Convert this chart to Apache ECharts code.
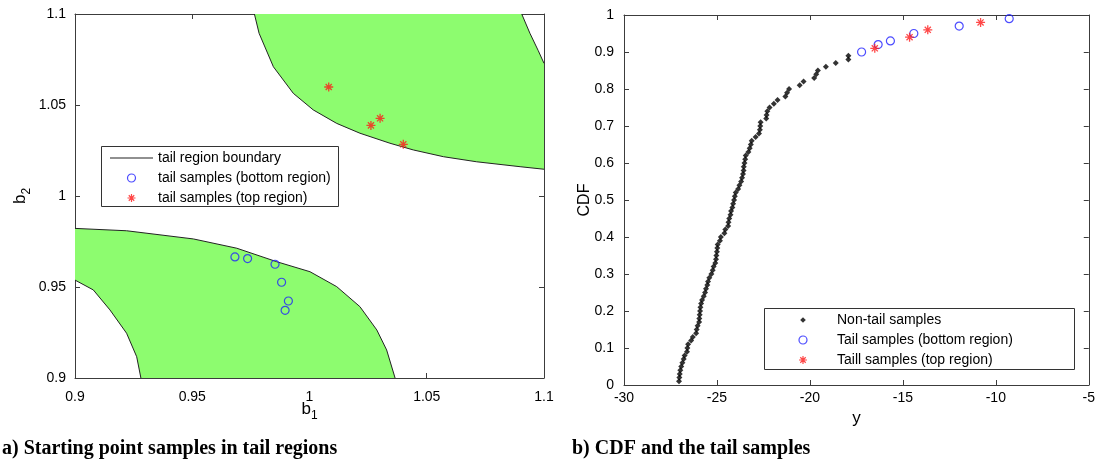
<!DOCTYPE html>
<html lang="en">
<head>
<meta charset="utf-8">
<title>Starting point samples in tail regions / CDF and the tail samples</title>
<script src="https://cdn.jsdelivr.net/npm/echarts@6/dist/echarts.min.js"></script>
<style>
    html, body { margin: 0; padding: 0; background: #fff; }
    #main { width: 1098px; height: 460px; }
</style>
</head>
<body>
<div id="main"></div>
<script type="text/javascript">
    // ---- a) tail region boundaries as [b1, b2] ----
    var topLowerEdge = [[0.9765, 1.1], [0.9785, 1.0894], [0.9846, 1.0710], [0.9931, 1.0564], [1.0016, 1.0473],
        [1.0116, 1.0399], [1.0215, 1.0345], [1.0343, 1.0290], [1.0443, 1.0253], [1.0571, 1.0216],
        [1.0713, 1.0188], [1.0898, 1.0161], [1.1, 1.0147]];
    var topUpperEdge = [[1.0905, 1.1], [1.0940, 1.0894], [1.0975, 1.0800], [1.1, 1.0729]];
    var bottomUpperEdge = [[0.9, 0.9822], [0.9220, 0.9809], [0.9505, 0.9764], [0.9690, 0.9713], [0.9860, 0.9639],
        [1.0002, 0.9584], [1.0116, 0.9502], [1.0215, 0.9392], [1.0287, 0.9264], [1.0329, 0.9154], [1.0365, 0.9]];
    var bottomLowerEdge = [[0.9, 0.9538], [0.9078, 0.9484], [0.9149, 0.9374], [0.9220, 0.9246], [0.9263, 0.9117], [0.9281, 0.9]];

    // starting point samples
    var startBottom = [[0.9682, 0.9665], [0.9736, 0.9656], [0.9853, 0.9625], [0.9881, 0.9526], [0.9910, 0.9423], [0.9896, 0.9372]];
    var startTop = [[1.0082, 1.0599], [1.0262, 1.0388], [1.0301, 1.0427], [1.0400, 1.0284]];

    // ---- b) empirical CDF ----
    var nonTailX = [-27.04, -27.02, -27.00, -26.97, -26.92, -26.86, -26.79, -26.74, -26.61, -26.59,
        -26.55, -26.39, -26.30, -26.12, -26.09, -26.04, -25.96, -25.95, -25.93, -25.91,
        -25.89, -25.85, -25.80, -25.71, -25.64, -25.59, -25.52, -25.48, -25.41, -25.30,
        -25.23, -25.18, -25.09, -25.05, -25.03, -25.00, -24.98, -24.96, -24.84, -24.79,
        -24.60, -24.55, -24.40, -24.38, -24.34, -24.27, -24.24, -24.17, -24.13, -24.08,
        -24.04, -23.99, -23.86, -23.79, -23.70, -23.65, -23.60, -23.57, -23.56, -23.52,
        -23.48, -23.45, -23.31, -23.24, -23.18, -23.13, -22.92, -22.74, -22.69, -22.67,
        -22.65, -22.35, -22.33, -22.29, -22.17, -21.94, -21.74, -21.32, -21.23, -21.12,
        -20.55, -20.34, -19.77, -19.66, -19.57, -19.14, -18.61, -17.93, -17.93];
    var nonTailCdf = [0.01, 0.02, 0.03, 0.04, 0.05, 0.06, 0.07, 0.08, 0.09, 0.10,
        0.11, 0.12, 0.13, 0.14, 0.15, 0.16, 0.17, 0.18, 0.19, 0.20,
        0.21, 0.22, 0.23, 0.24, 0.25, 0.26, 0.27, 0.28, 0.29, 0.30,
        0.31, 0.32, 0.33, 0.34, 0.35, 0.36, 0.37, 0.38, 0.39, 0.40,
        0.41, 0.42, 0.43, 0.44, 0.45, 0.46, 0.47, 0.48, 0.49, 0.50,
        0.51, 0.52, 0.53, 0.54, 0.55, 0.56, 0.57, 0.58, 0.59, 0.60,
        0.61, 0.62, 0.63, 0.64, 0.65, 0.66, 0.67, 0.68, 0.69, 0.70,
        0.71, 0.72, 0.73, 0.74, 0.75, 0.76, 0.77, 0.78, 0.79, 0.80,
        0.81, 0.82, 0.83, 0.84, 0.85, 0.86, 0.87, 0.88, 0.89];
    var tailBottomX = [-17.22, -16.33, -15.67, -14.41, -11.97, -9.28];
    var tailBottomCdf = [0.90, 0.92, 0.93, 0.95, 0.97, 0.99];
    var tailTopX = [-16.51, -14.64, -13.66, -10.82];
    var tailTopCdf = [0.91, 0.94, 0.96, 0.98];

    var FONT = '"Liberation Sans", Arial, sans-serif';
    var CAPTION_FONT = 'bold 20px "Liberation Serif", "Times New Roman", serif';
    var GREEN = '#8dfc6f';
    var BLUE = '#1f1fff';
    var RED = '#ff1a1a';
    var STAR = 'path://M5,0L5,10M0,5L10,5M1.6,1.6L8.4,8.4M8.4,1.6L1.6,8.4';
    // legend icons padded with bare moveTo points so they keep their size in the legend box
    var LINE_ICON = 'path://M0,0M43,8M0,3.5L43,3.5L43,4.6L0,4.6Z';
    var DOT_ICON = 'path://M0,0M58,8M29,1.2L31.8,4L29,6.8L26.2,4Z';

    function zip(xs, ys) {
        return xs.map(function (x, i) { return [x, ys[i]]; });
    }

    // closed outlines of the two green regions
    var regions = [
        topLowerEdge.concat(topUpperEdge.slice().reverse()),
        bottomUpperEdge.concat(bottomLowerEdge.slice().reverse())
    ];

    function axis(extra) {
        var base = {
            type: 'value',
            axisLine: { show: true, onZero: false, lineStyle: { color: '#3c3c3c', width: 1 } },
            axisTick: { show: true, inside: true, length: 5, lineStyle: { color: '#3c3c3c' } },
            splitLine: { show: false },
            axisLabel: { color: '#000', fontSize: 14, fontFamily: FONT }
        };
        return Object.assign(base, extra);
    }
    function mirror(extra) {
        var a = axis(extra);
        a.axisLabel = { show: false };
        return a;
    }

    function boundary(points) {
        return {
            name: 'tail region boundary',
            type: 'line',
            xAxisIndex: 0, yAxisIndex: 0,
            data: points,
            symbol: 'none',
            lineStyle: { color: '#222', width: 1 },
            itemStyle: { color: '#222' },
            silent: true,
            z: 3
        };
    }

    var chart = echarts.init(document.getElementById('main'), null, { renderer: 'canvas' });

    var option = {
        backgroundColor: '#fff',
        animation: false,
        textStyle: { fontFamily: FONT },
        grid: [
            { left: 75, top: 14, width: 469, height: 364 },
            { left: 624, top: 15, width: 468, height: 370 }
        ],
        xAxis: [
            axis({ gridIndex: 0, position: 'bottom', min: 0.9, max: 1.1, interval: 0.05,
                axisLabel: { color: '#000', fontSize: 14, fontFamily: FONT, margin: 12 },
                name: '{a|b}{s|1}', nameLocation: 'middle', nameGap: 18, nameMoveOverlap: false,
                nameTextStyle: { rich: {
                    a: { fontSize: 17, color: '#000', fontFamily: FONT },
                    s: { fontSize: 12, color: '#000', fontFamily: FONT, padding: [14, 0, 0, 0] }
                } } }),
            mirror({ gridIndex: 0, position: 'top', min: 0.9, max: 1.1, interval: 0.05 }),
            axis({ gridIndex: 1, position: 'bottom', min: -30, max: -5, interval: 5,
                axisLabel: { color: '#000', fontSize: 14, fontFamily: FONT, margin: 6 },
                name: 'y', nameLocation: 'middle', nameGap: 24,
                nameTextStyle: { fontSize: 17, color: '#000', fontFamily: FONT } }),
            mirror({ gridIndex: 1, position: 'top', min: -30, max: -5, interval: 5 })
        ],
        yAxis: [
            axis({ gridIndex: 0, position: 'left', min: 0.9, max: 1.1, interval: 0.05,
                axisLabel: { color: '#000', fontSize: 14, fontFamily: FONT, margin: 9 },
                name: '{a|b}{s|2}', nameLocation: 'middle', nameGap: 42, nameRotate: 90,
                nameTextStyle: { rich: {
                    a: { fontSize: 17, color: '#000', fontFamily: FONT },
                    s: { fontSize: 12, color: '#000', fontFamily: FONT, padding: [14, 0, 0, 0] }
                } } }),
            mirror({ gridIndex: 0, position: 'right', min: 0.9, max: 1.1, interval: 0.05 }),
            axis({ gridIndex: 1, position: 'left', min: 0, max: 1, interval: 0.1,
                axisLabel: { color: '#000', fontSize: 14, fontFamily: FONT, margin: 10 },
                name: 'CDF', nameLocation: 'middle', nameGap: 31, nameRotate: 90, nameMoveOverlap: false,
                nameTextStyle: { fontSize: 16, color: '#000', fontFamily: FONT } }),
            mirror({ gridIndex: 1, position: 'right', min: 0, max: 1, interval: 0.1 })
        ],
        legend: [
            {
                left: 110, top: 151, orient: 'vertical',
                itemWidth: 43, itemHeight: 8, itemGap: 6, padding: 0,
                selectedMode: false,
                itemStyle: { borderWidth: 1.2 },
                textStyle: { fontSize: 14, color: '#000', fontFamily: FONT },
                data: [
                    { name: 'tail region boundary', icon: LINE_ICON, itemStyle: { color: '#222', borderWidth: 0 } },
                    'tail samples (bottom region)',
                    'tail samples (top region)'
                ]
            },
            {
                left: 774, top: 313, orient: 'vertical',
                itemWidth: 58, itemHeight: 8, itemGap: 6, padding: 0,
                selectedMode: false,
                itemStyle: { borderWidth: 1.2 },
                textStyle: { fontSize: 14, color: '#000', fontFamily: FONT },
                data: [
                    { name: 'Non-tail samples', icon: DOT_ICON, itemStyle: { color: '#000', borderWidth: 0 } },
                    'Tail samples (bottom region)',
                    'Taill samples (top region)'
                ]
            }
        ],
        graphic: [
            { type: 'rect', z: 3, shape: { x: 101.5, y: 146.5, width: 237, height: 60 },
              style: { fill: '#fff', stroke: '#333', lineWidth: 1 } },
            { type: 'rect', z: 3, shape: { x: 764.5, y: 308.5, width: 310, height: 61 },
              style: { fill: '#fff', stroke: '#333', lineWidth: 1 } },
            { type: 'text', left: 2, top: 439,
              style: { text: 'a) Starting point samples in tail regions', fill: '#000', font: CAPTION_FONT } },
            { type: 'text', left: 572, top: 439,
              style: { text: 'b) CDF and the tail samples', fill: '#000', font: CAPTION_FONT } }
        ],
        series: [
            {
                name: 'regions',
                type: 'custom',
                xAxisIndex: 0, yAxisIndex: 0,
                silent: true,
                z: 1,
                data: [[1.05, 1.05], [0.95, 0.95]],
                renderItem: function (params, api) {
                    var pts = regions[params.dataIndex].map(function (p) { return api.coord(p); });
                    return { type: 'polygon', shape: { points: pts }, style: { fill: GREEN, stroke: null } };
                }
            },
            boundary(topLowerEdge),
            boundary(topUpperEdge),
            boundary(bottomUpperEdge),
            boundary(bottomLowerEdge),
            {
                name: 'tail samples (bottom region)',
                type: 'scatter',
                xAxisIndex: 0, yAxisIndex: 0,
                data: startBottom,
                symbol: 'circle', symbolSize: 8,
                itemStyle: { color: 'rgba(0,0,0,0)', borderColor: BLUE, borderWidth: 1.2 },
                z: 4
            },
            {
                name: 'tail samples (top region)',
                type: 'scatter',
                xAxisIndex: 0, yAxisIndex: 0,
                data: startTop,
                symbol: STAR, symbolSize: 9, symbolKeepAspect: true,
                itemStyle: { color: RED, borderColor: RED, borderWidth: 1.3 },
                z: 4
            },
            {
                name: 'Non-tail samples',
                type: 'scatter',
                xAxisIndex: 2, yAxisIndex: 2,
                data: zip(nonTailX, nonTailCdf),
                symbol: 'diamond', symbolSize: 6,
                itemStyle: { color: '#000' },
                z: 4
            },
            {
                name: 'Tail samples (bottom region)',
                type: 'scatter',
                xAxisIndex: 2, yAxisIndex: 2,
                data: zip(tailBottomX, tailBottomCdf),
                symbol: 'circle', symbolSize: 8,
                itemStyle: { color: 'rgba(0,0,0,0)', borderColor: BLUE, borderWidth: 1.2 },
                z: 4
            },
            {
                name: 'Taill samples (top region)',
                type: 'scatter',
                xAxisIndex: 2, yAxisIndex: 2,
                data: zip(tailTopX, tailTopCdf),
                symbol: STAR, symbolSize: 9, symbolKeepAspect: true,
                itemStyle: { color: RED, borderColor: RED, borderWidth: 1.3 },
                z: 4
            }
        ]
    };

    chart.setOption(option);
</script>
</body>
</html>
